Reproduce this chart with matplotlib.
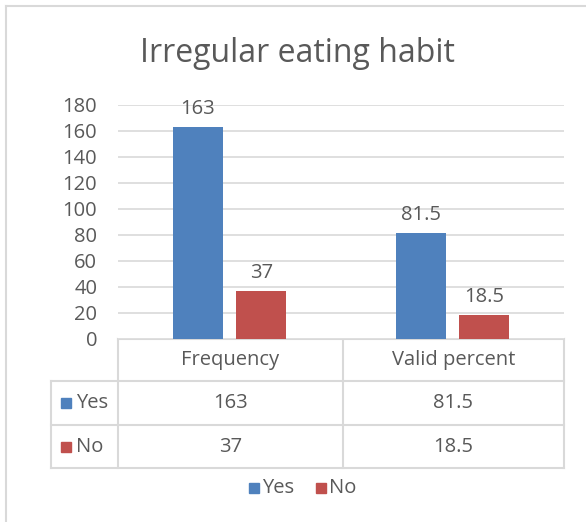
import numpy as np
import matplotlib.pyplot as plt
from matplotlib.patches import Rectangle

plt.rcParams['font.family'] = ['Open Sans', 'DejaVu Sans']

title = 'Irregular eating habit'
categories = ['Frequency', 'Valid percent']
series = ['Yes', 'No']
values = {'Yes': [163, 81.5], 'No': [37, 18.5]}
labels = {'Yes': ['163', '81.5'], 'No': ['37', '18.5']}
colors = {'Yes': '#4f81bd', 'No': '#c0504d'}
yticks = np.arange(0, 181, 20)

txt = '#595959'
grid = '#d9d9d9'
fs = 14.5
W, H = 586, 522

fig = plt.figure(figsize=(W / 100, H / 100), dpi=100)

# overlay in pixel coords for frame, table and legend
ov = fig.add_axes([0, 0, 1, 1])
ov.set_xlim(0, W)
ov.set_ylim(H, 0)
ov.axis('off')

# plot area (pixels)
x0, x1 = 118, 564
y0, y1 = 339, 105
ax = fig.add_axes([x0 / W, 1 - y0 / H, (x1 - x0) / W, (y0 - y1) / H])
ax.set_ylim(0, 180)
ax.set_xlim(-0.5, len(categories) - 0.5)
ax.set_yticks(yticks)
ax.yaxis.grid(True, color=grid, lw=1.2)
ax.set_axisbelow(True)
for s in ax.spines.values():
    s.set_visible(False)
ax.tick_params(axis='y', length=0, pad=15, labelsize=fs, labelcolor=txt)
ax.tick_params(axis='x', length=0, labelbottom=False)

x = np.arange(len(categories))
bw = 0.224
off = 0.143
for i, s in enumerate(series):
    pos = x + (-off if i == 0 else off)
    ax.bar(pos, values[s], width=bw, color=colors[s], zorder=2)
    for p, v, l in zip(pos, values[s], labels[s]):
        ax.annotate(l, (p, v), xytext=(0, 6), textcoords='offset points',
                    ha='center', va='bottom', fontsize=fs, color=txt,
                    annotation_clip=False)

fig.suptitle(title, x=0.507, y=0.93, fontsize=23, color=txt)

# outer frame
ov.plot([6, 6], [6, H], color=grid, lw=1.5)
ov.plot([6, W], [6, 6], color=grid, lw=1.5)

# data table
tl = 51
rows = [339, 381, 425, 468]
cols = [x0, 343, x1]
ov.plot([x0, x1], [rows[0], rows[0]], color=grid, lw=1.5)
for r in rows[1:]:
    ov.plot([tl, x1], [r, r], color=grid, lw=1.5)
ov.plot([tl, tl], [rows[1], rows[3]], color=grid, lw=1.5)
for c in cols:
    ov.plot([c, c], [rows[0], rows[3]], color=grid, lw=1.5)

for j, cat in enumerate(categories):
    cx = (cols[j] + cols[j + 1]) / 2
    ov.text(cx, (rows[0] + rows[1]) / 2, cat, ha='center', va='center',
            fontsize=fs, color=txt)
    for i, s in enumerate(series):
        ov.text(cx, (rows[i + 1] + rows[i + 2]) / 2, labels[s][j],
                ha='center', va='center', fontsize=fs, color=txt)

for i, s in enumerate(series):
    cy = (rows[i + 1] + rows[i + 2]) / 2
    ov.add_patch(Rectangle((61, cy - 5), 10, 10, color=colors[s]))
    ov.text(76, cy, s, ha='left', va='center', fontsize=fs, color=txt)

# legend
lx = [249, 316]
for s, lxx in zip(series, lx):
    ov.add_patch(Rectangle((lxx, 483), 10, 10, color=colors[s]))
    ov.text(lxx + 13, 488, s, ha='left', va='center', fontsize=fs, color=txt)

fig.savefig('out.png', dpi=100)
